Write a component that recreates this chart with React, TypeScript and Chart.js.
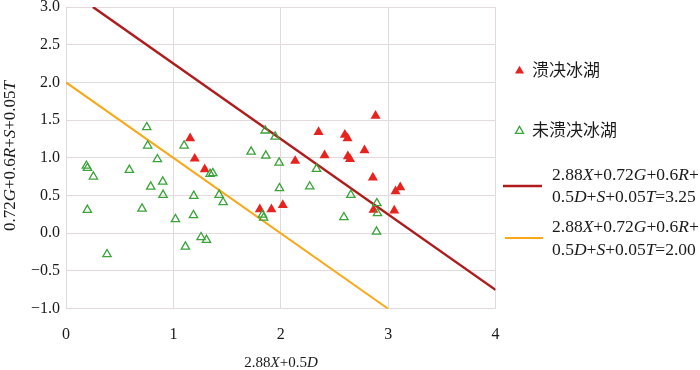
import React, { useEffect, useRef } from 'react';
import { Chart, registerables } from 'chart.js';

Chart.register(...registerables);

// ---- data ----
const burstX = [1.156, 1.199, 1.292, 1.805, 1.913, 2.019, 2.134, 2.352, 2.408, 2.597, 2.622, 2.625, 2.645, 2.78, 2.858, 2.883, 2.864, 3.057, 3.069, 3.113];
const burstY = [1.26, 0.989, 0.849, 0.318, 0.318, 0.375, 0.959, 1.343, 1.034, 1.304, 1.26, 1.02, 0.985, 1.1, 0.738, 1.556, 0.309, 0.3, 0.557, 0.61];

const safeX = [0.752, 0.761, 0.851, 0.19, 0.2, 0.255, 0.59, 0.789, 0.901, 0.904, 0.199, 0.708, 0.382, 1.019, 1.1, 1.19, 1.187, 1.112, 1.258, 1.308, 1.342, 1.367, 1.426, 1.463, 1.724, 1.855, 1.948, 1.861, 1.985, 1.988, 1.83, 1.84, 2.27, 2.333, 2.653, 2.588, 2.895, 2.901, 2.892];
const safeY = [1.406, 1.162, 0.981, 0.895, 0.865, 0.751, 0.84, 0.618, 0.684, 0.508, 0.309, 0.326, -0.279, 0.186, 1.162, 0.495, 0.239, -0.178, -0.053, -0.089, 0.786, 0.796, 0.508, 0.411, 1.082, 1.361, 1.281, 1.029, 0.936, 0.597, 0.245, 0.205, 0.62, 0.853, 0.508, 0.212, 0.398, 0.265, 0.021];

const line325X = [0.25, 4];
const line325Y = [3.0, -0.75];
const line200X = [0, 3];
const line200Y = [2.0, -1.0];

const xTicks = [0, 1, 2, 3, 4];
const yTicks = [-1, -0.5, 0, 0.5, 1, 1.5, 2, 2.5, 3];

const seriesNames = ['溃决冰湖', '未溃决冰湖'];
const eq325 = ['2.88*X*+0.72*G*+0.6*R*+', '0.5*D*+*S*+0.05*T*=3.25'];
const eq200 = ['2.88*X*+0.72*G*+0.6*R*+', '0.5*D*+*S*+0.05*T*=2.00'];
const xTitle = '2.88*X*+0.5*D*';
const yTitle = '0.72*G*+0.6*R*+*S*+0.05*T*';

const RED_LINE = '#b01c1c';
const ORANGE = '#f8a818';
const RED = '#e8231f';
const GREEN = '#3aa33a';
const GRID = '#e2d9dc';
const SERIF = '"Liberation Serif", "Times New Roman", serif';
const CJK = '"Noto Sans CJK SC", sans-serif';

function toPts(xs: number[], ys: number[]) {
  return xs.map((x, i) => ({ x, y: ys[i] }));
}

function drawRich(ctx: CanvasRenderingContext2D, text: string, x: number, y: number, size: number, align: 'left' | 'center') {
  const parts = text.split('*');
  const fonts = parts.map((_, i) => `${i % 2 ? 'italic ' : ''}${size}px ${SERIF}`);
  const widths = parts.map((p, i) => {
    ctx.font = fonts[i];
    return ctx.measureText(p).width;
  });
  const total = widths.reduce((a, b) => a + b, 0);
  let cx = align === 'center' ? x - total / 2 : x;
  ctx.textAlign = 'left';
  parts.forEach((p, i) => {
    ctx.font = fonts[i];
    ctx.fillText(p, cx, y);
    cx += widths[i];
  });
}

function tri(ctx: CanvasRenderingContext2D, x: number, y: number, r: number) {
  ctx.beginPath();
  for (let k = 0; k < 3; k++) {
    const a = (k * 2 * Math.PI) / 3;
    const px = x + Math.sin(a) * r;
    const py = y - Math.cos(a) * r;
    if (k === 0) ctx.moveTo(px, py);
    else ctx.lineTo(px, py);
  }
  ctx.closePath();
}

const decorPlugin = {
  id: 'decor',
  afterDraw(chart: any) {
    const ctx: CanvasRenderingContext2D = chart.ctx;
    ctx.save();
    ctx.fillStyle = '#1a1a1a';
    // x title
    ctx.textBaseline = 'alphabetic';
    drawRich(ctx, xTitle, 281, 367, 15, 'center');
    // y title
    ctx.save();
    ctx.translate(15, 156);
    ctx.rotate(-Math.PI / 2);
    drawRich(ctx, yTitle, 0, 0, 17, 'center');
    ctx.restore();

    // legend
    tri(ctx, 519.5, 71, 5.2);
    ctx.fillStyle = RED;
    ctx.fill();
    tri(ctx, 519.5, 131, 4.6);
    ctx.strokeStyle = GREEN;
    ctx.lineWidth = 1.3;
    ctx.stroke();

    ctx.fillStyle = '#1a1a1a';
    ctx.textBaseline = 'middle';
    ctx.textAlign = 'left';
    ctx.font = `17px ${CJK}`;
    ctx.fillText(seriesNames[0], 532, 70);
    ctx.fillText(seriesNames[1], 532, 130);

    ctx.lineWidth = 2.5;
    ctx.strokeStyle = RED_LINE;
    ctx.beginPath();
    ctx.moveTo(503, 186);
    ctx.lineTo(542, 186);
    ctx.stroke();
    ctx.lineWidth = 2;
    ctx.strokeStyle = ORANGE;
    ctx.beginPath();
    ctx.moveTo(505, 238);
    ctx.lineTo(543, 238);
    ctx.stroke();

    drawRich(ctx, eq325[0], 552, 175, 17.5, 'left');
    drawRich(ctx, eq325[1], 552, 197, 17.5, 'left');
    drawRich(ctx, eq200[0], 552, 227, 17.5, 'left');
    drawRich(ctx, eq200[1], 552, 250, 17.5, 'left');
    ctx.restore();
  },
};

export default function App() {
  const ref = useRef<HTMLCanvasElement>(null);
  useEffect(() => {
    if (!ref.current) return;
    const chart = new Chart(ref.current, {
      type: 'scatter',
      data: {
        datasets: [
          {
            label: seriesNames[1],
            data: toPts(safeX, safeY),
            pointStyle: 'triangle',
            pointRadius: 4.8,
            pointBorderWidth: 1.3,
            borderColor: GREEN,
            backgroundColor: 'rgba(0,0,0,0)',
            order: 1,
          },
          {
            label: seriesNames[0],
            data: toPts(burstX, burstY),
            pointStyle: 'triangle',
            pointRadius: 5.8,
            pointBorderWidth: 0,
            borderColor: RED,
            backgroundColor: RED,
            order: 2,
          },
          {
            label: '3.25',
            data: toPts(line325X, line325Y),
            showLine: true,
            pointRadius: 0,
            borderColor: RED_LINE,
            borderWidth: 2.5,
            order: 3,
          },
          {
            label: '2.00',
            data: toPts(line200X, line200Y),
            showLine: true,
            pointRadius: 0,
            borderColor: ORANGE,
            borderWidth: 2,
            order: 3,
          },
        ],
      },
      options: {
        responsive: false,
        animation: false,
        layout: { padding: { left: 0, top: 7, right: 204.5, bottom: 0 } },
        plugins: { legend: { display: false }, tooltip: { enabled: false } },
        scales: {
          x: {
            type: 'linear',
            min: xTicks[0],
            max: xTicks[xTicks.length - 1],
            afterBuildTicks: (s: any) => {
              s.ticks = xTicks.map((v) => ({ value: v }));
            },
            afterFit: (s: any) => {
              s.height = 61.3;
              s.paddingLeft = 0;
              s.paddingRight = 0;
            },
            grid: { color: GRID, drawTicks: false },
            border: { color: GRID },
            ticks: {
              padding: 16,
              color: '#1a1a1a',
              font: { family: SERIF, size: 16 },
              callback: (v: any) => String(v),
            },
          },
          y: {
            type: 'linear',
            min: yTicks[0],
            max: yTicks[yTicks.length - 1],
            afterBuildTicks: (s: any) => {
              s.ticks = yTicks.map((v) => ({ value: v }));
            },
            afterFit: (s: any) => {
              s.width = 66;
              s.paddingTop = 0;
              s.paddingBottom = 0;
            },
            grid: { color: GRID, drawTicks: false },
            border: { color: GRID },
            ticks: {
              padding: 6,
              color: '#1a1a1a',
              font: { family: SERIF, size: 16 },
              callback: (v: any) => Number(v).toFixed(1).replace('-', '\u2212'),
            },
          },
        },
      },
      plugins: [decorPlugin],
    });
    return () => chart.destroy();
  }, []);
  return (
    <div style={{ position: 'absolute', left: 0, top: 0, width: 700, height: 370, background: '#fff' }}>
      <canvas ref={ref} width={700} height={370} />
    </div>
  );
}
